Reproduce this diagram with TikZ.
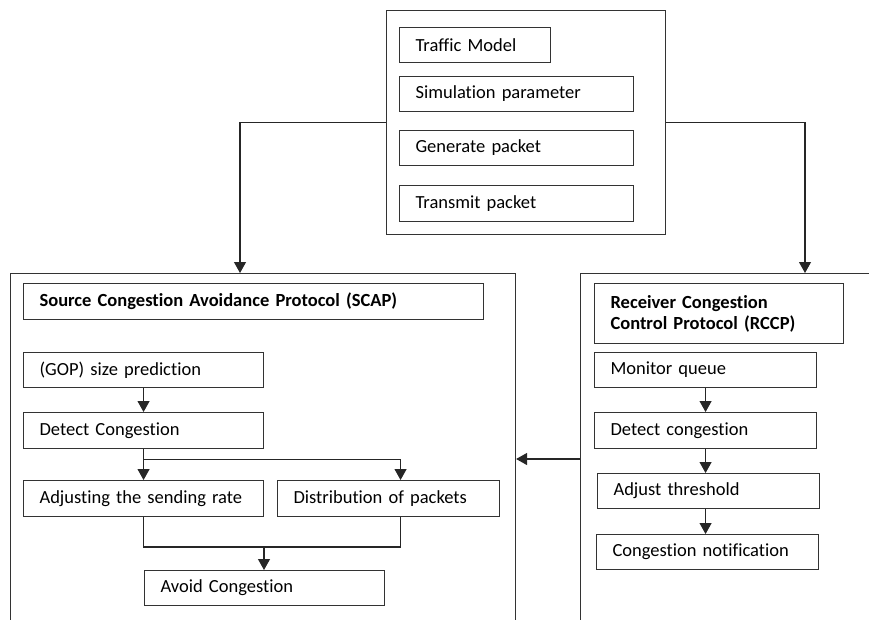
\documentclass[tikz,border=0pt]{standalone}
\usepackage{fontspec}
\setmainfont[Ligatures=NoCommon]{Carlito}
\usepackage{tikz}
\usetikzlibrary{calc,arrows.meta}

\tikzset{
    blk/.style={draw=black!80, line width=1.1pt, anchor=north west, align=left, inner xsep=16pt, inner ysep=0pt},
    frm/.style={draw=black!80, line width=1.1pt, anchor=north west, inner sep=0pt},
    arr/.style={draw=black!85, line width=1.1pt, -{Triangle[width=12pt,length=11pt]}},
    lin/.style={draw=black!85, line width=1.1pt}
}

\begin{document}
\begin{tikzpicture}[x=1pt, y=-1pt, font=\fontsize{18.5}{21}\selectfont]
        \useasboundingbox (0,0) rectangle (869,619);

        \node[frm, minimum width=279, minimum height=224] (top) at (386,10) {};
        \node[blk, text width=119, minimum height=35] (traffic) at (399,27) {Traffic Model};
        \node[blk, text width=202, minimum height=35] (simpar) at (399,76) {Simulation parameter};
        \node[blk, text width=202, minimum height=35] (genpkt) at (399,130) {Generate packet};
        \node[blk, text width=202, minimum height=36] (trpkt) at (399,185) {Transmit packet};

        \node[frm, minimum width=505, minimum height=420] (scapfr) at (10,273) {};
        \node[frm, minimum width=330, minimum height=420] (rccpfr) at (580,273) {};
        \coordinate (scapin) at (240,273);
        \coordinate (rccpin) at (805,273);
        \coordinate (fback) at (580,459);
        \coordinate (merge) at (264,547);

        \node[blk, text width=428, minimum height=36, font=\fontsize{18.5}{21}\selectfont\bfseries] (scap) at (23,283) {Source Congestion Avoidance Protocol (SCAP)};
        \node[blk, text width=208, minimum height=35] (gop) at (23,352) {(GOP) size prediction};
        \node[blk, text width=208, minimum height=36] (dcong) at (23,412) {Detect Congestion};
        \node[blk, text width=208, minimum height=36] (adjrate) at (23,480) {Adjusting the sending rate};
        \node[blk, text width=190, minimum height=36] (distr) at (277,480) {Distribution of packets};
        \node[blk, text width=208, minimum height=35] (avoid) at (144,570) {Avoid Congestion};

        \node[blk, text width=217, minimum height=60, font=\fontsize{18.5}{21}\selectfont\bfseries] (rccp) at (594,283) {Receiver Congestion\\Control Protocol (RCCP)};
        \node[blk, text width=190, minimum height=35] (monq) at (594,352) {Monitor queue};
        \node[blk, text width=190, minimum height=36] (rdcong) at (594,412) {Detect congestion};
        \node[blk, text width=190, minimum height=35] (adjthr) at (597,473) {Adjust threshold};
        \node[blk, text width=190, minimum height=35] (cnotif) at (596,534) {Congestion notification};

        \draw[arr] (top.west) -| (scapin);
        \draw[arr] (top.east) -| (rccpin);
        \draw[arr] (fback) -- (fback -| scapfr.east);

        \draw[arr] (gop) -- (dcong);
        \draw[arr] (dcong) -- (adjrate);
        \draw[arr] (dcong.south) ++(0,10) -| ([xshift=12]distr.north);
        \draw[lin] (adjrate.south) |- (merge) -| ([xshift=12]distr.south);
        \draw[arr] (merge) -- (avoid.north -| merge);

        \draw[arr] (monq.south) -- (monq.south |- rdcong.north);
        \draw[arr] (rdcong.south) -- (rdcong.south |- adjthr.north);
        \draw[arr] (rdcong.south |- adjthr.south) -- (rdcong.south |- cnotif.north);
    \end{tikzpicture}
\end{document}
